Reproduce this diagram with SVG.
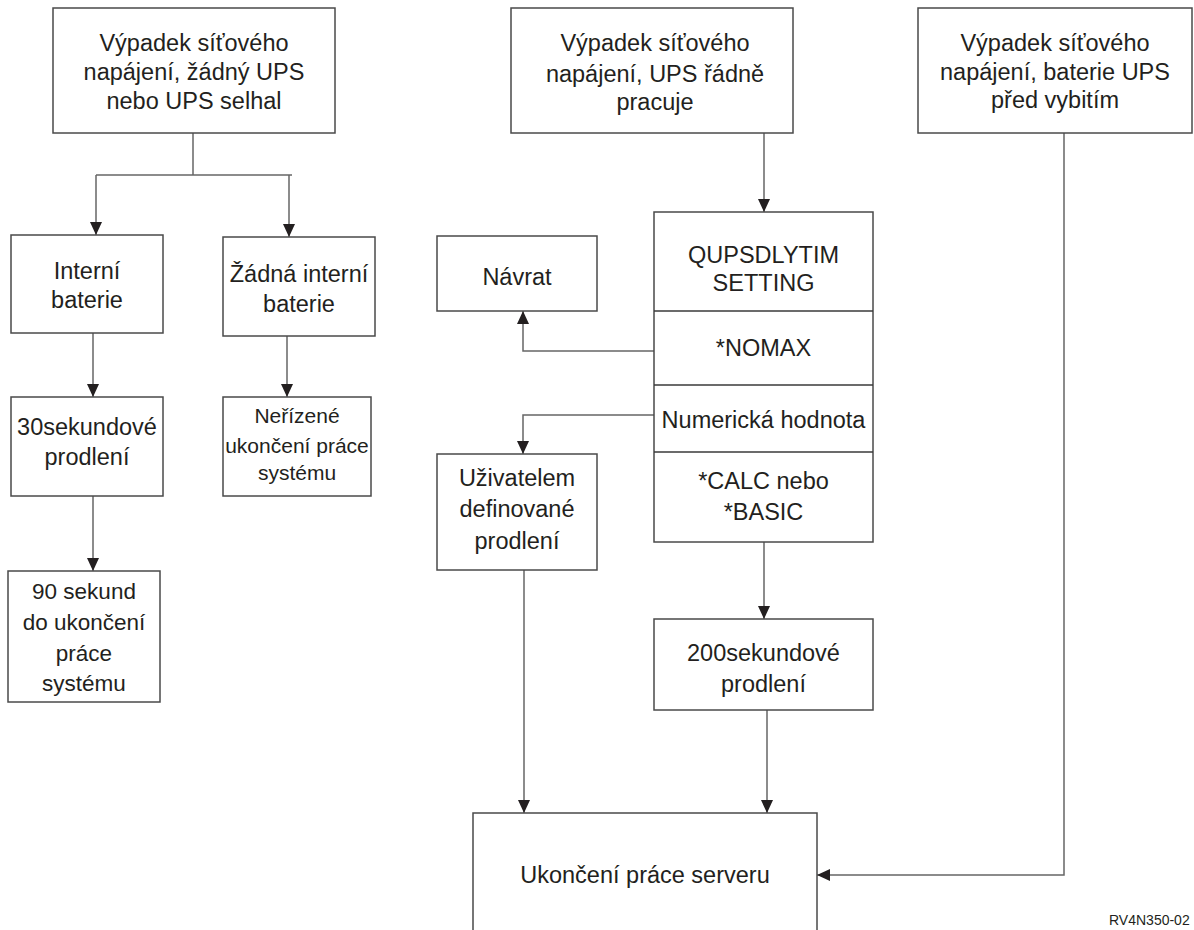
<svg xmlns="http://www.w3.org/2000/svg" width="1194" height="930" viewBox="0 0 1194 930">
<style>
.box{fill:#fff;stroke:#4a4a4a;stroke-width:1.5}
.div{stroke:#3a3a3a;stroke-width:1.5}
.t{font-family:"Liberation Sans",Arial,sans-serif;font-size:23.5px;fill:#231f20;text-anchor:middle}
.s{font-size:21px}
.m{font-size:22.5px}
.c{fill:none;stroke:#666;stroke-width:1.5}
</style>
<defs>
<marker id="ah" viewBox="0 0 13 12" refX="13" refY="6" markerWidth="13" markerHeight="12" markerUnits="userSpaceOnUse" orient="auto">
<path d="M0,0 L13,6 L0,12 z" fill="#231f20"/>
</marker>
</defs>
<rect width="1194" height="930" fill="#fff"/>
<g id="connectors">
<polyline class="c" points="193,133 193,175"/>
<polyline class="c" points="96,175 292,175"/>
<polyline class="c" points="96,175 96,235" marker-end="url(#ah)"/>
<polyline class="c" points="289,175 289,237" marker-end="url(#ah)"/>
<polyline class="c" points="93,333 93,397" marker-end="url(#ah)"/>
<polyline class="c" points="287,336 287,397" marker-end="url(#ah)"/>
<polyline class="c" points="93,496 93,571" marker-end="url(#ah)"/>
<polyline class="c" points="764,133 764,212" marker-end="url(#ah)"/>
<polyline class="c" points="654,351 523,351 523,311" marker-end="url(#ah)"/>
<polyline class="c" points="654,415 523,415 523,454" marker-end="url(#ah)"/>
<polyline class="c" points="764,542 764,619" marker-end="url(#ah)"/>
<polyline class="c" points="524,570 524,813" marker-end="url(#ah)"/>
<polyline class="c" points="767,710 767,813" marker-end="url(#ah)"/>
<polyline class="c" points="1064,133 1064,875 817,875" marker-end="url(#ah)"/>
</g>
<g id="n1">
<rect class="box" x="53" y="8" width="282" height="125"/>
<text class="t" x="194" y="51">Výpadek síťového</text>
<text class="t" x="194" y="80">napájení, žádný UPS</text>
<text class="t" x="194" y="109">nebo UPS selhal</text>
</g>
<g id="n2">
<rect class="box" x="511" y="8" width="282" height="125"/>
<text class="t" x="655" y="51">Výpadek síťového</text>
<text class="t" x="655" y="82">napájení, UPS řádně</text>
<text class="t" x="655" y="110">pracuje</text>
</g>
<g id="n3">
<rect class="box" x="918" y="8" width="274" height="125"/>
<text class="t" x="1055" y="51">Výpadek síťového</text>
<text class="t" x="1055" y="80">napájení, baterie UPS</text>
<text class="t" x="1055" y="108">před vybitím</text>
</g>
<g id="n4">
<rect class="box" x="11" y="235" width="152" height="98"/>
<text class="t" x="87" y="279">Interní</text>
<text class="t" x="87" y="308">baterie</text>
</g>
<g id="n5">
<rect class="box" x="223" y="237" width="152" height="99"/>
<text class="t" x="299" y="282">Žádná interní</text>
<text class="t" x="299" y="312">baterie</text>
</g>
<g id="n6">
<rect class="box" x="11" y="397" width="152" height="99"/>
<text class="t" x="87" y="435">30sekundové</text>
<text class="t" x="87" y="465">prodlení</text>
</g>
<g id="n7">
<rect class="box" x="223" y="397" width="148" height="99"/>
<text class="t s" x="297" y="423">Neřízené</text>
<text class="t s" x="297" y="453">ukončení práce</text>
<text class="t s" x="297" y="480">systému</text>
</g>
<g id="n8">
<rect class="box" x="8" y="571" width="152" height="131"/>
<text class="t m" x="84" y="599">90 sekund</text>
<text class="t m" x="84" y="630">do ukončení</text>
<text class="t m" x="84" y="661">práce</text>
<text class="t m" x="84" y="691">systému</text>
</g>
<g id="n9">
<rect class="box" x="437" y="236" width="160" height="75"/>
<text class="t" x="517" y="285">Návrat</text>
</g>
<g id="n10">
<rect class="box" x="654" y="212" width="219" height="330"/>
<line class="div" x1="654" y1="311" x2="873" y2="311"/>
<line class="div" x1="654" y1="385" x2="873" y2="385"/>
<line class="div" x1="654" y1="452" x2="873" y2="452"/>
<text class="t" x="763.5" y="263">QUPSDLYTIM</text>
<text class="t" x="763.5" y="291">SETTING</text>
<text class="t" x="763.5" y="356">*NOMAX</text>
<text class="t" x="763.5" y="428">Numerická hodnota</text>
<text class="t" x="763.5" y="489">*CALC nebo</text>
<text class="t" x="763.5" y="520">*BASIC</text>
</g>
<g id="n11">
<rect class="box" x="437" y="454" width="160" height="116"/>
<text class="t" x="517" y="486">Uživatelem</text>
<text class="t" x="517" y="517">definované</text>
<text class="t" x="517" y="549">prodlení</text>
</g>
<g id="n12">
<rect class="box" x="654" y="619" width="219" height="91"/>
<text class="t" x="763.5" y="661">200sekundové</text>
<text class="t" x="763.5" y="692">prodlení</text>
</g>
<g id="n13">
<rect class="box" x="473" y="813" width="344" height="130"/>
<text class="t" x="645" y="883">Ukončení práce serveru</text>
</g>
<text x="1109" y="925" style="font-family:'Liberation Sans',Arial,sans-serif;font-size:14px;fill:#231f20">RV4N350-02</text>
</svg>
